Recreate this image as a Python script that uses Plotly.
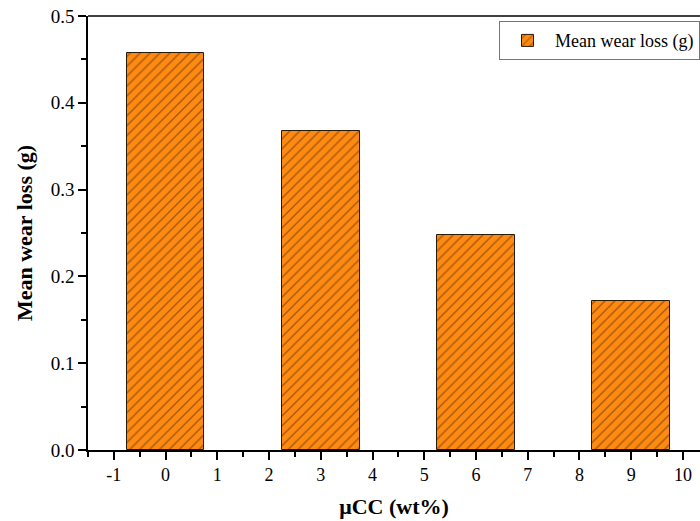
import plotly.graph_objects as go

categories = [0, 3, 6, 9]
mean_wear_loss = [0.457, 0.367, 0.248, 0.172]
x_ticks = [-1, 0, 1, 2, 3, 4, 5, 6, 7, 8, 9, 10]
y_ticks = [0.0, 0.1, 0.2, 0.3, 0.4, 0.5]

fig = go.Figure()
fig.add_trace(go.Bar(
    x=categories, y=mean_wear_loss, width=1.5,
    name="Mean wear loss (g)",
    marker=dict(color="#FF8A12",
                line=dict(color="#2a1a0a", width=1),
                pattern=dict(shape="/", fgcolor="#4a2606", bgcolor="#FF8A12",
                             size=7, solidity=0.2)),
    showlegend=True,
))

font_family = "Liberation Serif, Times New Roman, serif"
fig.update_layout(
    width=700, height=521,
    margin=dict(l=88, r=0, t=16, b=71),
    paper_bgcolor="white", plot_bgcolor="white",
    font=dict(family=font_family, color="black", size=16),
    showlegend=True,
    legend=dict(x=1, xanchor="right", y=0.988, yanchor="top",
                bordercolor="#777", borderwidth=1, bgcolor="white",
                font=dict(size=18, family=font_family),
                itemwidth=45, tracegroupgap=0),
    bargap=0,
)
fig.update_xaxes(
    range=[-1.5, 10.33], tickvals=x_ticks, ticktext=[str(v) for v in x_ticks],
    showgrid=False, zeroline=False, showline=True, linecolor="black", linewidth=1.5,
    ticks="outside", ticklen=8, tickwidth=1.5, tickcolor="black",
    minor=dict(dtick=0.5, ticks="outside", ticklen=5, tickwidth=1.5, tickcolor="black", tick0=-1.5),
    mirror=False,
    title=dict(text="<b>μCC (wt%)</b>", font=dict(size=22, family=font_family), standoff=14),
    tickfont=dict(size=18, family=font_family),
)
fig.update_yaxes(
    range=[0, 0.5], tickvals=y_ticks, ticktext=[f"{v:.1f}" for v in y_ticks],
    showgrid=False, zeroline=False, showline=True, linecolor="black", linewidth=1.5,
    ticks="outside", ticklen=8, tickwidth=1.5, tickcolor="black",
    minor=dict(dtick=0.05, ticks="outside", ticklen=5, tickwidth=1.5, tickcolor="black"),
    title=dict(text="<b>Mean wear loss (g)</b>", font=dict(size=22, family=font_family), standoff=12),
    tickfont=dict(size=19, family=font_family),
)
fig.add_shape(type="line", xref="paper", yref="paper", x0=0, x1=1, y0=1, y1=1,
              line=dict(color="black", width=1.5))

fig.write_html("out.html")
